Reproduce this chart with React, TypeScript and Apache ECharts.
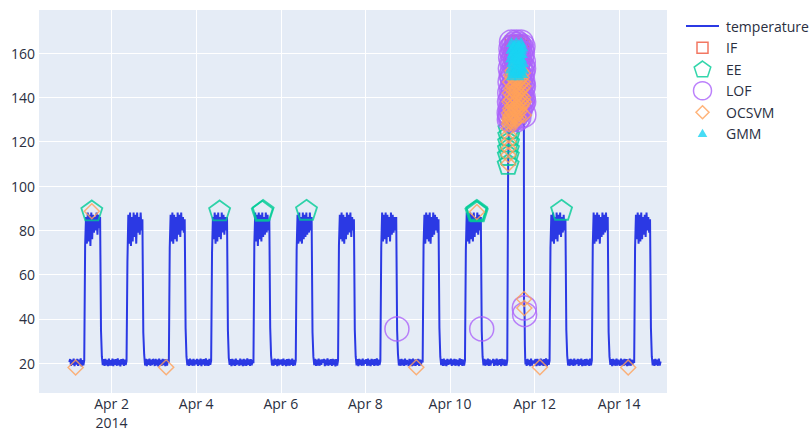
import React, { useEffect, useRef } from "react";
import * as echarts from "echarts";

// x axis: days counted so that April N = N (Mar 31 = 0). Each normal day: 48 half-hour readings 00:00..23:30
const apr01 = [20.6, 21.9, 18.9, 21.5, 19.3, 22.1, 18.7, 21.6, 19.4, 22.0, 18.8, 21.7, 19.2, 22.2, 18.6, 21.4, 19.1, 21.3,
  73, 86, 74, 88, 75, 87, 73, 88, 76, 87, 79, 86, 80, 88, 78, 87, 81, 86,
  35, 23, 19.2, 21.9, 18.8, 22.0, 19.1, 21.6, 18.7, 22.1, 19.0, 21.4];
const apr02 = [19.0, 22.1, 18.7, 21.8, 19.3, 21.9, 18.9, 22.2, 19.1, 21.5, 18.6, 21.9, 19.4, 22.0, 18.8, 21.7, 19.2, 21.0,
  66, 87, 74, 88, 73, 86, 75, 88, 77, 87, 74, 88, 79, 86, 78, 88, 80, 85,
  34, 24, 19.0, 22.0, 18.7, 21.8, 19.3, 22.1, 18.9, 21.6, 19.2, 21.9];
const apr03 = [21.2, 18.8, 22.0, 19.1, 21.7, 18.6, 22.1, 19.3, 21.5, 18.9, 22.0, 19.2, 21.8, 18.7, 21.9, 19.0, 21.6, 20.2,
  72, 87, 75, 88, 74, 87, 76, 86, 75, 88, 78, 87, 77, 88, 80, 86, 79, 85,
  36, 23, 19.1, 21.8, 18.8, 22.1, 19.2, 21.7, 18.9, 22.0, 19.0, 21.5];
const apr04 = [19.6, 22.0, 18.8, 21.6, 19.2, 22.1, 18.7, 21.8, 19.4, 21.9, 18.9, 22.2, 19.0, 21.5, 18.8, 22.0, 19.3, 21.1,
  70, 86, 76, 88, 74, 87, 75, 88, 77, 86, 76, 88, 79, 87, 78, 86, 80, 86,
  35, 22.5, 19.3, 21.9, 18.7, 22.0, 19.1, 21.6, 18.8, 22.1, 19.2, 21.4];
const apr05 = [20.8, 18.9, 22.1, 19.2, 21.7, 18.7, 22.0, 19.0, 21.6, 18.8, 22.2, 19.3, 21.8, 18.9, 21.9, 19.1, 21.5, 20.0,
  74, 88, 75, 87, 73, 88, 76, 87, 75, 88, 77, 86, 78, 88, 79, 87, 80, 85,
  36, 23.5, 19.0, 21.7, 18.9, 22.1, 19.3, 21.8, 18.7, 22.0, 19.1, 21.6];
const apr06 = [19.4, 21.8, 18.8, 22.1, 19.2, 21.6, 18.7, 21.9, 19.0, 22.0, 18.9, 21.7, 19.3, 22.1, 18.8, 21.5, 19.1, 21.2,
  71, 87, 74, 88, 75, 86, 74, 88, 76, 87, 77, 88, 78, 86, 79, 88, 80, 86,
  34, 23, 19.2, 22.0, 18.8, 21.7, 19.0, 22.1, 18.9, 21.6, 19.3, 21.8];
const apr07 = [20.3, 22.0, 18.7, 21.7, 19.1, 22.2, 18.9, 21.6, 19.3, 21.9, 18.8, 22.0, 19.2, 21.8, 18.6, 21.9, 19.0, 21.3,
  73, 87, 76, 88, 75, 87, 74, 86, 76, 88, 78, 87, 79, 88, 77, 86, 80, 85,
  35, 23, 19.1, 21.9, 18.7, 22.0, 19.2, 21.7, 18.9, 22.1, 19.0, 21.5];
const apr08 = [19.8, 21.9, 18.9, 22.1, 19.0, 21.6, 18.7, 22.0, 19.3, 21.8, 18.8, 21.9, 19.1, 22.2, 18.9, 21.6, 19.2, 21.0,
  72, 88, 75, 87, 76, 88, 74, 87, 77, 86, 75, 88, 78, 87, 79, 86, 80, 86,
  35, 24, 19.0, 21.8, 18.9, 22.0, 19.1, 21.7, 18.8, 22.1, 19.2, 21.4];
const apr09 = [20.7, 18.8, 22.0, 19.2, 21.8, 18.7, 22.1, 19.0, 21.6, 18.9, 21.9, 19.3, 22.0, 18.8, 21.7, 19.1, 21.5, 20.4,
  73, 87, 74, 88, 76, 87, 75, 88, 74, 86, 77, 88, 78, 87, 80, 86, 79, 85,
  36, 23, 19.2, 21.9, 18.8, 22.1, 19.0, 21.6, 18.7, 22.0, 19.3, 21.7];
const apr10 = [19.5, 22.1, 18.8, 21.7, 19.2, 22.0, 18.9, 21.8, 19.1, 21.6, 18.7, 22.2, 19.3, 21.9, 18.8, 21.6, 19.0, 21.2,
  71, 88, 75, 87, 74, 88, 76, 87, 75, 88, 77, 86, 79, 88, 78, 87, 80, 86,
  35, 23, 19.1, 22.0, 18.9, 21.7, 19.2, 22.1, 18.8, 21.8, 19.0, 21.3];
// Apr 11: night (00:00-08:30, half-hourly), jump (09:00-17:55, every 5 min), drop (18:00-18:50, every 10 min), evening (19:00-23:30, half-hourly)
const apr11Night = [20.2, 22.0, 18.8, 21.7, 19.1, 22.1, 18.9, 21.6, 19.3, 21.9, 18.7, 22.0, 19.2, 21.8, 18.8, 21.6, 19.0, 21.2];
const apr11Jump = [
  110, 114, 117, 120, 123, 126,
  128, 133, 130, 138, 129, 142,
  131, 147, 135, 153, 132, 158,
  139, 162, 134, 150, 144, 165,
  130, 156, 141, 160, 136, 149,
  152, 133, 163, 145, 138, 157,
  129, 161, 143, 151, 137, 164,
  148, 132, 159, 140, 155, 135,
  162, 146, 131, 158, 142, 153,
  136, 165, 149, 134, 160, 144,
  154, 130, 163, 139, 151, 147,
  137, 159, 133, 156, 142, 164,
  145, 131, 161, 150, 135, 157,
  140, 163, 148, 134, 155, 143,
  160, 138, 152, 146, 165, 136,
  141, 158, 149, 162, 139, 154,
  144, 160, 137, 151, 147, 163,
  140, 156, 145, 153, 138, 132];
const apr11Drop = [49, 45, 42, 28, 22, 19.5];
const apr11Evening = [21.8, 18.8, 22.0, 19.2, 21.6, 18.7, 22.1, 19.0, 21.3, 20.0];
const apr12 = [20.5, 21.9, 18.7, 22.0, 19.1, 21.7, 18.9, 22.1, 19.2, 21.6, 18.8, 21.9, 19.0, 22.2, 18.7, 21.8, 19.3, 21.1,
  72, 87, 75, 88, 74, 86, 76, 88, 75, 87, 78, 88, 77, 86, 79, 87, 80, 85,
  35, 23.5, 19.0, 21.8, 18.9, 22.0, 19.2, 21.7, 18.8, 22.1, 19.1, 21.5];
const apr13 = [19.7, 22.0, 18.8, 21.8, 19.3, 22.1, 18.7, 21.6, 19.0, 21.9, 18.9, 22.0, 19.2, 21.7, 18.8, 22.1, 19.1, 21.4,
  73, 88, 74, 87, 75, 88, 76, 87, 74, 86, 77, 88, 78, 87, 79, 88, 80, 86,
  34, 23, 19.3, 21.9, 18.7, 22.0, 19.1, 21.6, 18.9, 22.1, 19.0, 21.6];
const apr14 = [20.4, 18.9, 22.1, 19.1, 21.7, 18.8, 22.0, 19.2, 21.9, 18.7, 21.8, 19.0, 22.1, 18.9, 21.6, 19.3, 21.5, 20.1,
  72, 87, 76, 88, 74, 87, 75, 88, 76, 86, 78, 87, 77, 88, 80, 86, 79, 85,
  36, 23, 19.1, 21.8, 18.8, 22.0, 19.2, 21.7, 18.9, 22.1, 19.0, 20.8];

// Extra anomaly points outside the Apr 11 burst: [day of April, hour, value]
const eeOther = [[1, 12.8, 89], [4, 13.3, 89], [5, 13.5, 88.8], [5, 14.0, 89.2], [6, 14.6, 89.3],
  [10, 14.7, 88.8], [10, 15.2, 89.3], [10, 15.5, 88.6], [12, 15.3, 89.3]];
const ocsvmOther = [[1, 3.6, 18.1], [1, 12.8, 88.6], [3, 7.0, 18.2], [9, 4.9, 18.2], [10, 15.25, 88.3],
  [12, 3.0, 18.2], [14, 5.1, 18.1]];
const lofOther = [[8, 17.9, 35.5], [10, 18.0, 35.5]];

const xTicks = [2, 4, 6, 8, 10, 12, 14];
const yTicks = [20, 40, 60, 80, 100, 120, 140, 160];

const LINE = "#2b39e4";
const C_IF = "#EF553B";
const C_EE = "#00CC96";
const C_LOF = "#AB63FA";
const C_OCSVM = "#FFA15A";
const C_GMM = "#19D3F3";
const FONT = '"Open Sans", verdana, arial, sans-serif';
const TXT = "#2a2f3f";
const PENTAGON = "path://M50,0 L97.55,34.55 L79.39,90.45 L20.61,90.45 L2.45,34.55 Z";

// legend icons laid out in a 33x18 (line) or 18x18 (markers) box
const ICON_LINE = "path://M0,0 M33,18 M0,9 L33,9";
const ICON_SQUARE = "path://M0,0 M18,18 M3.5,3.5 L14.5,3.5 L14.5,14.5 L3.5,14.5 Z";
const ICON_PENT = "path://M0,0 M18,18 M9,0.8 L17.3,6.8 L14.1,16.6 L3.9,16.6 L0.7,6.8 Z";
const ICON_DIAMOND = "path://M0,0 M18,18 M9,2.5 L15.5,9 L9,15.5 L2.5,9 Z";
const ICON_TRI = "path://M0,0 M18,18 M9,4.8 L13.8,13 L4.2,13 Z";

const t = (day: number, hour: number) => day + hour / 24;

function buildTemperature() {
  const pts: number[][] = [];
  const normal: [number, number[]][] = [[1, apr01], [2, apr02], [3, apr03], [4, apr04], [5, apr05], [6, apr06],
    [7, apr07], [8, apr08], [9, apr09], [10, apr10]];
  normal.forEach(([d, arr]) => arr.forEach((v, i) => pts.push([t(d, i * 0.5), v])));
  apr11Night.forEach((v, i) => pts.push([t(11, i * 0.5), v]));
  apr11Jump.forEach((v, i) => pts.push([t(11, 9 + i / 12), v]));
  apr11Drop.forEach((v, i) => pts.push([t(11, 18 + i / 6), v]));
  apr11Evening.forEach((v, i) => pts.push([t(11, 19 + i * 0.5), v]));
  const late: [number, number[]][] = [[12, apr12], [13, apr13], [14, apr14]];
  late.forEach(([d, arr]) => arr.forEach((v, i) => pts.push([t(d, i * 0.5), v])));
  return pts;
}

const jumpPts = () => apr11Jump.map((v, i) => [t(11, 9 + i / 12), v]);
const dropPts = () => apr11Drop.map((v, i) => [t(11, 18 + i / 6), v]);
const other = (arr: number[][]) => arr.map(([d, h, v]) => [t(d, h), v]);

export default function App() {
  const ref = useRef<HTMLDivElement>(null);
  useEffect(() => {
    const chart = echarts.init(ref.current!, undefined, { renderer: "svg" });
    const jp = jumpPts();
    const dp = dropPts();
    const ifData = jp.filter((p) => p[1] >= 156);
    const eeData = other(eeOther).concat(jp.filter((p) => p[1] <= 127));
    const lofData = other(lofOther).concat(jp.filter((p) => p[1] >= 130), dp.filter((p) => p[1] >= 40 && p[1] <= 46));
    const ocsvmData = other(ocsvmOther).concat(jp.filter((p) => p[1] <= 152), dp.filter((p) => p[1] >= 44));
    const gmmData = jp.filter((p) => p[1] >= 150);

    const openStyle = (c: string, w = 1.5) => ({ color: "rgba(0,0,0,0)", borderColor: c, borderWidth: w });

    const option: any = {
      animation: false,
      backgroundColor: "#ffffff",
      textStyle: { fontFamily: FONT },
      grid: { left: 38, right: 143, top: 9, bottom: 35, show: true, backgroundColor: "#E5ECF6", borderWidth: 0 },
      xAxis: {
        type: "value",
        min: 0.261,
        max: 15.13,
        minInterval: 2,
        maxInterval: 2,
        splitNumber: 7,
        axisLine: { show: false },
        axisTick: { show: false },
        splitLine: { show: true, lineStyle: { color: "#ffffff", width: 1 } },
        axisLabel: {
          showMinLabel: false,
          showMaxLabel: false,
          color: TXT,
          fontSize: 14,
          fontFamily: FONT,
          lineHeight: 19,
          margin: 1,
          formatter: (v: number) => {
            const r = Math.round(v);
            if (Math.abs(v - r) > 1e-6 || xTicks.indexOf(r) < 0) return "";
            return r === xTicks[0] ? "Apr " + r + "\n2014" : "Apr " + r;
          },
        },
      },
      yAxis: {
        type: "value",
        min: 6.6,
        max: 179.9,
        minInterval: 20,
        maxInterval: 20,
        splitNumber: 8,
        axisLine: { show: false },
        axisTick: { show: false },
        splitLine: { show: true, lineStyle: { color: "#ffffff", width: 1 } },
        axisLabel: {
          showMinLabel: false,
          showMaxLabel: false,
          color: TXT,
          fontSize: 14,
          fontFamily: FONT,
          margin: 3,
          formatter: (v: number) => {
            const r = Math.round(v);
            if (Math.abs(v - r) > 1e-6 || yTicks.indexOf(r) < 0) return "";
            return String(r);
          },
        },
      },
      legend: {
        orient: "vertical",
        left: 685,
        top: 16,
        padding: 0,
        itemWidth: 33,
        itemHeight: 18,
        itemGap: 2,
        symbolKeepAspect: true,
        textStyle: { fontSize: 14, color: TXT, fontFamily: FONT, padding: [0, 0, 0, 2] },
        data: [
          { name: "temperature", icon: ICON_LINE, itemStyle: { color: "rgba(0,0,0,0)", borderColor: LINE, borderWidth: 2 } },
          { name: "IF", icon: ICON_SQUARE, itemStyle: openStyle(C_IF) },
          { name: "EE", icon: ICON_PENT, itemStyle: openStyle(C_EE) },
          { name: "LOF", icon: "circle", itemStyle: openStyle(C_LOF) },
          { name: "OCSVM", icon: ICON_DIAMOND, itemStyle: openStyle(C_OCSVM) },
          { name: "GMM", icon: ICON_TRI, itemStyle: { color: C_GMM, borderWidth: 0 } },
        ],
      },
      series: [
        {
          name: "temperature",
          type: "line",
          data: buildTemperature(),
          symbol: "none",
          showSymbol: false,
          silent: true,
          lineStyle: { color: LINE, width: 2 },
          itemStyle: { color: LINE },
          z: 1,
        },
        { name: "IF", type: "scatter", data: ifData, symbol: "rect", symbolSize: 12, itemStyle: openStyle(C_IF), z: 2, silent: true },
        { name: "EE", type: "scatter", data: eeData, symbol: PENTAGON, symbolSize: 21, symbolKeepAspect: true, itemStyle: openStyle(C_EE, 1.8), z: 3, silent: true },
        { name: "LOF", type: "scatter", data: lofData, symbol: "circle", symbolSize: 24, itemStyle: openStyle(C_LOF), z: 4, silent: true },
        { name: "OCSVM", type: "scatter", data: ocsvmData, symbol: "diamond", symbolSize: 15, itemStyle: openStyle(C_OCSVM), z: 5, silent: true },
        { name: "GMM", type: "scatter", data: gmmData, symbol: "triangle", symbolSize: [11, 10], itemStyle: { color: C_GMM }, z: 6, silent: true },
      ],
    };
    chart.setOption(option);
    return () => chart.dispose();
  }, []);
  return <div ref={ref} style={{ position: "absolute", left: 0, top: 0, width: 810, height: 432 }} />;
}
